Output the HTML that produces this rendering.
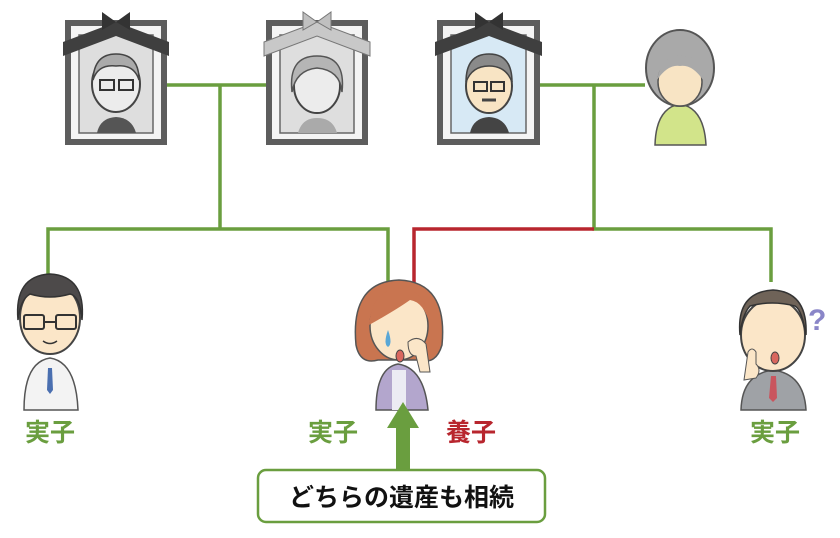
<!DOCTYPE html>
<html><head><meta charset="utf-8"><style>
html,body{margin:0;padding:0;background:#fff;width:840px;height:538px;overflow:hidden}
svg{display:block}
text{font-family:"Liberation Sans","Noto Sans CJK JP",sans-serif;font-weight:bold}
</style></head><body>
<svg width="840" height="538" viewBox="0 0 840 538" xmlns="http://www.w3.org/2000/svg">
<g stroke="#6a9e3f" stroke-width="3.5" fill="none">
<path d="M167 85H266M220 85V229M48 275V229H388V285"/>
<path d="M540 85H645M594 85V229H771V282"/>
</g>
<path d="M594 229H414V285" stroke="#b8262e" stroke-width="3.5" fill="none"/>

<!-- frame 1 -->
<g>
<rect x="65" y="20" width="102" height="125" fill="#5d5d5d"/>
<rect x="71" y="26" width="90" height="113" fill="#f4f4f4"/>
<rect x="79" y="35" width="74" height="98" fill="#dedede" stroke="#666" stroke-width="1.5"/>
<ellipse cx="116" cy="84" rx="24" ry="28" fill="#ececec" stroke="#444" stroke-width="2"/>
<path d="M93 80 Q94 54 116 54 Q139 54 139 80 Q134 64 116 66 Q98 64 93 80Z" fill="#aaa" stroke="#444" stroke-width="1.5"/>
<rect x="100" y="80" width="14" height="10" fill="none" stroke="#333" stroke-width="2"/>
<rect x="119" y="80" width="14" height="10" fill="none" stroke="#333" stroke-width="2"/>
<path d="M97 133 Q100 118 116 117 Q132 118 136 133Z" fill="#555"/>
<path d="M63 42 L116 22 L169 42 L169 56 L116 36 L63 56Z" fill="#3f3f3f"/>
<path d="M102 12 L116 22 L130 12 L130 30 L116 22 L102 30Z" fill="#333"/>
</g>
<!-- frame 2 -->
<g>
<rect x="266" y="20" width="102" height="125" fill="#5d5d5d"/>
<rect x="272" y="26" width="90" height="113" fill="#f4f4f4"/>
<rect x="280" y="35" width="74" height="98" fill="#dedede" stroke="#666" stroke-width="1.5"/>
<ellipse cx="317" cy="86" rx="23" ry="27" fill="#ececec" stroke="#444" stroke-width="2"/>
<path d="M292 92 Q288 56 317 56 Q346 56 342 92 Q340 70 317 68 Q296 70 292 92Z" fill="#b5b5b5" stroke="#555" stroke-width="1.5"/>
<path d="M298 133 Q302 118 317 118 Q333 118 337 133Z" fill="#aaa"/>
<path d="M264 42 L317 22 L370 42 L370 56 L317 36 L264 56Z" fill="#c8c8c8" stroke="#777"/>
<path d="M303 12 L317 22 L331 12 L331 30 L317 22 L303 30Z" fill="#c0c0c0" stroke="#777"/>
</g>
<!-- frame 3 -->
<g>
<rect x="437" y="20" width="103" height="125" fill="#5d5d5d"/>
<rect x="443" y="26" width="91" height="113" fill="#f4f4f4"/>
<rect x="451" y="35" width="75" height="98" fill="#d7e9f5" stroke="#666" stroke-width="1.5"/>
<ellipse cx="489" cy="86" rx="23" ry="27" fill="#f8e4c4" stroke="#444" stroke-width="2"/>
<path d="M466 82 Q466 54 489 54 Q512 54 512 82 Q506 66 489 66 Q472 66 466 82Z" fill="#8a8a8a" stroke="#444" stroke-width="1.5"/>
<rect x="474" y="82" width="13" height="9" fill="none" stroke="#333" stroke-width="2"/>
<rect x="491" y="82" width="13" height="9" fill="none" stroke="#333" stroke-width="2"/>
<path d="M482 100 H496" stroke="#444" stroke-width="3"/>
<path d="M470 133 Q473 118 489 117 Q505 118 509 133Z" fill="#444"/>
<path d="M435 42 L489 22 L542 42 L542 56 L489 36 L435 56Z" fill="#3f3f3f"/>
<path d="M475 12 L489 22 L503 12 L503 30 L489 22 L475 30Z" fill="#333"/>
</g>
<!-- grandma -->
<g>
<path d="M655 145 Q656 108 680 104 Q704 108 706 145Z" fill="#d2e48a" stroke="#555" stroke-width="1.5"/>
<ellipse cx="680" cy="68" rx="34" ry="38" fill="#a9a9a9" stroke="#555" stroke-width="2"/>
<ellipse cx="680" cy="82" rx="22" ry="24" fill="#f8e4c4" stroke="#555" stroke-width="1.5"/>
<path d="M657 80 Q662 54 680 56 Q700 54 703 80 Q692 64 680 66 Q668 64 657 80Z" fill="#a9a9a9"/>
</g>
<!-- left man -->
<g>
<path d="M24 410 Q24 362 50 358 Q76 362 78 410Z" fill="#f3f3f3" stroke="#555" stroke-width="1.5"/>
<path d="M48 368 L52 368 L53 390 L50 394 L47 390Z" fill="#4a6fb0"/>
<ellipse cx="50" cy="318" rx="30" ry="36" fill="#fbe6c8" stroke="#444" stroke-width="2"/>
<path d="M18 320 Q14 276 50 274 Q86 276 82 320 Q80 296 70 294 Q50 300 30 294 Q20 300 18 320Z" fill="#4d4a4a" stroke="#333" stroke-width="1.5"/>
<rect x="24" y="315" width="20" height="14" rx="2" fill="none" stroke="#333" stroke-width="2"/>
<rect x="56" y="315" width="20" height="14" rx="2" fill="none" stroke="#333" stroke-width="2"/>
<path d="M44 322H56" stroke="#333" stroke-width="2"/>
<path d="M43 341 Q50 346 57 341" stroke="#333" stroke-width="1.5" fill="none"/>
</g>
<!-- woman -->
<g>
<path d="M376 410 Q376 368 398 364 Q424 368 428 410Z" fill="#b3a6cd" stroke="#555" stroke-width="1.5"/>
<rect x="392" y="370" width="14" height="40" fill="#ecebf3"/>
<path d="M356 345 Q350 282 399 280 Q448 282 442 345 Q436 365 420 360 L378 360 Q360 365 356 345Z" fill="#c97550" stroke="#555" stroke-width="1.5"/>
<ellipse cx="399" cy="326" rx="29" ry="34" fill="#fbe6c8" stroke="#555" stroke-width="1.5"/>
<path d="M369 325 Q372 290 400 288 Q428 290 430 325 Q424 302 410 300 Q396 310 369 325Z" fill="#c97550"/>
<path d="M388 330 Q383 344 388 347 Q393 344 388 330Z" fill="#5aa7d6"/>
<ellipse cx="400" cy="356" rx="4" ry="6" fill="#d9675e" stroke="#444"/>
<path d="M408 342 Q418 334 426 344 L430 372 L420 372 L416 356 Q408 356 408 342Z" fill="#fbe6c8" stroke="#555"/>
</g>
<!-- right man -->
<g>
<path d="M741 410 Q742 374 773 370 Q804 374 806 410Z" fill="#9fa2a6" stroke="#555" stroke-width="1.5"/>
<path d="M771 376 H776 L777 398 L773 402 L769 398Z" fill="#c9555e"/>
<ellipse cx="773" cy="335" rx="32" ry="36" fill="#fbe6c8" stroke="#444" stroke-width="2"/>
<path d="M740 335 Q736 292 773 290 Q808 292 806 335 Q802 310 795 306 Q772 300 750 306 Q742 315 740 335Z" fill="#6f6358" stroke="#333" stroke-width="1.5"/>
<ellipse cx="775" cy="358" rx="4" ry="6" fill="#d9675e" stroke="#444"/>
<path d="M744 380 L748 352 Q752 346 756 352 L756 364 Q762 370 756 378Z" fill="#fbe6c8" stroke="#555"/>
<text x="808" y="330" font-size="30" font-weight="normal" fill="#8a86c8">?</text>
</g>

<text x="50" y="441" font-size="25" fill="#6a9e3f" text-anchor="middle">実子</text>
<text x="333" y="441" font-size="25" fill="#6a9e3f" text-anchor="middle">実子</text>
<text x="471" y="441" font-size="25" fill="#b8262e" text-anchor="middle">養子</text>
<text x="775" y="441" font-size="25" fill="#6a9e3f" text-anchor="middle">実子</text>

<path d="M396 472 V428 H387 L403 402 L419 428 H410 V472Z" fill="#6a9e3f"/>
<rect x="258" y="470" width="287" height="52" rx="8" fill="#fff" stroke="#6a9e3f" stroke-width="2.5"/>
<text x="401.5" y="506" font-size="25" fill="#111" text-anchor="middle">どちらの遺産も相続</text>
</svg>
</body></html>
